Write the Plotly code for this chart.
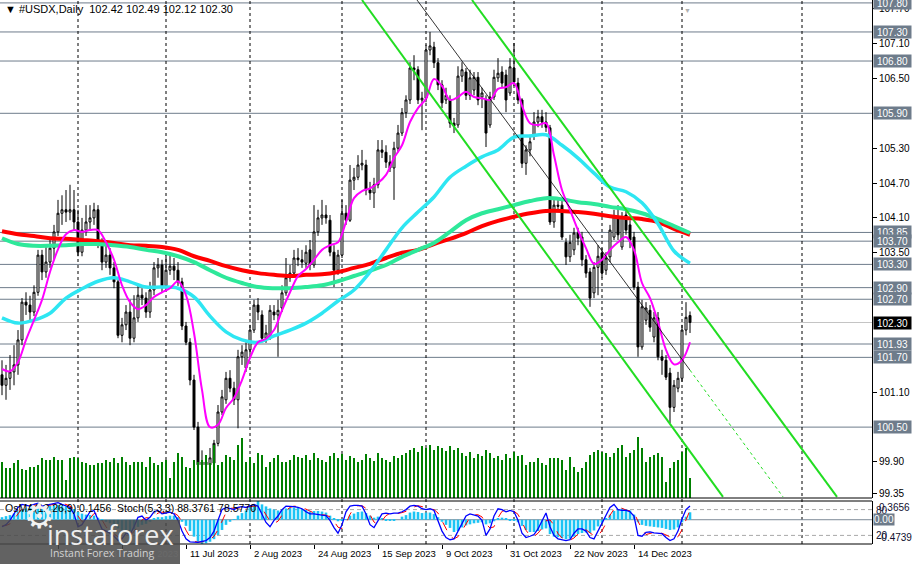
import plotly.graph_objects as go

W, H = 913, 564

# ---------------- data ----------------
symbol = "#USDX,Daily"
first_bar = 2  # bar index of first visible candle (bar 0 = 4 May 2023)

opens = [
    101.40, 101.22, 101.34, 101.45, 101.57, 102.00, 102.65, 102.60, 102.48, 102.82,
    103.46, 103.17, 103.34, 103.58, 103.86, 104.18, 104.24, 104.20, 104.24, 104.03,
    103.51, 103.89, 104.03, 104.10, 104.24, 103.68, 103.34, 103.46, 103.24, 103.00,
    102.08, 102.26, 102.48, 102.03, 102.38, 102.77, 102.72, 102.48, 102.86, 103.24,
    103.29, 102.93, 103.20, 103.27, 103.20, 103.00, 102.24, 101.96, 101.31, 100.50,
    99.85, 99.90, 99.85, 99.88, 100.22, 100.76, 100.97, 101.34, 101.17, 100.97,
    101.71, 101.52, 101.83, 102.17, 102.60, 102.43, 102.03, 102.08, 102.48, 102.43,
    102.55, 102.81, 103.07, 103.15, 103.41, 103.38, 103.32, 103.55, 103.29, 103.86,
    104.10, 104.15, 104.06, 103.51, 103.20, 103.46, 104.18, 104.06, 104.75, 104.80,
    105.01, 105.01, 104.58, 104.53, 104.67, 105.27, 105.23, 105.06, 104.96, 105.30,
    105.56, 105.91, 106.13, 106.68, 106.65, 106.13, 106.16, 106.99, 107.04, 106.77,
    106.39, 106.13, 106.13, 105.73, 105.70, 106.54, 106.61, 106.21, 106.30, 106.52,
    106.18, 106.13, 105.70, 106.18, 106.51, 106.61, 106.56, 106.25, 106.68, 106.42,
    106.13, 105.04, 105.27, 105.53, 105.75, 105.84, 105.75, 105.65, 104.03, 104.32,
    104.32, 103.68, 103.43, 103.55, 103.84, 103.77, 103.38, 103.17, 102.81, 103.25,
    103.50, 103.20, 103.43, 103.77, 104.12, 103.60, 104.15, 103.98, 103.77, 102.91,
    101.88, 102.34, 102.51, 102.05, 102.38, 101.71, 101.65, 101.43, 100.84, 101.17,
    101.34, 102.17, 102.42,
]
highs = [
    101.65, 101.57, 101.74, 101.91, 102.17, 102.72, 102.82, 102.76, 102.94, 103.55,
    103.55, 103.63, 103.75, 103.98, 104.41, 104.49, 104.58, 104.67, 104.58, 104.24,
    104.10, 104.32, 104.32, 104.36, 104.32, 103.75, 103.63, 103.58, 103.34, 103.07,
    102.38, 102.60, 102.69, 102.77, 102.94, 102.89, 102.82, 103.00, 103.34, 103.41,
    103.38, 103.46, 103.46, 103.41, 103.34, 103.07, 102.31, 102.03, 101.40, 100.59,
    100.10, 100.02, 100.14, 100.28, 100.88, 101.14, 101.45, 101.48, 101.28, 101.83,
    101.91, 101.96, 102.26, 102.69, 102.72, 102.51, 102.26, 102.60, 102.60, 102.69,
    102.94, 103.41, 103.29, 103.55, 103.58, 103.55, 103.63, 103.72, 104.32, 104.24,
    104.41, 104.32, 104.15, 103.63, 103.55, 104.41, 104.32, 105.01, 104.96, 105.18,
    105.27, 105.10, 104.72, 104.79, 105.44, 105.44, 105.35, 105.18, 105.41, 105.70,
    105.99, 106.21, 106.78, 106.90, 106.71, 106.27, 107.08, 107.30, 107.13, 106.85,
    106.47, 106.34, 106.21, 105.82, 106.71, 106.78, 106.68, 106.65, 106.61, 106.61,
    106.34, 106.21, 106.27, 106.65, 106.85, 106.71, 106.65, 106.85, 107.11, 106.51,
    106.16, 105.35, 105.53, 105.92, 105.96, 105.96, 105.92, 105.70, 104.44, 104.44,
    104.41, 103.75, 103.81, 103.93, 103.93, 103.86, 103.46, 103.24, 103.34, 103.63,
    103.58, 103.51, 103.98, 104.24, 104.32, 104.20, 104.27, 104.06, 103.86, 103.00,
    102.69, 102.65, 102.60, 102.48, 102.48, 101.83, 101.74, 101.52, 101.31, 101.45,
    102.26, 102.65, 102.49,
]
lows = [
    101.05, 100.97, 101.14, 101.22, 101.40, 101.91, 102.43, 102.34, 102.41, 102.76,
    103.03, 103.07, 103.24, 103.38, 103.79, 103.98, 104.03, 104.06, 103.89, 103.44,
    103.44, 103.79, 103.89, 103.98, 103.58, 103.20, 103.24, 103.12, 102.89, 102.03,
    101.96, 102.17, 101.91, 101.96, 102.31, 102.60, 102.38, 102.38, 102.77, 103.07,
    102.82, 102.86, 103.12, 103.03, 102.93, 102.17, 101.91, 101.22, 100.45, 99.67,
    99.73, 99.76, 99.76, 99.83, 100.17, 100.71, 100.90, 101.10, 100.88, 100.48,
    101.57, 101.45, 101.74, 102.12, 102.34, 101.96, 101.95, 102.00, 102.34, 101.71,
    102.48, 102.76, 103.00, 103.10, 103.27, 103.24, 103.24, 103.20, 103.24, 103.79,
    103.98, 104.00, 103.44, 102.91, 103.12, 103.41, 103.98, 104.03, 104.58, 104.75,
    104.92, 104.49, 104.41, 104.27, 104.61, 105.13, 104.96, 104.89, 104.41, 105.23,
    105.51, 105.82, 106.06, 106.47, 106.06, 105.61, 106.09, 106.90, 106.68, 106.30,
    105.99, 106.06, 105.65, 105.56, 105.65, 106.44, 106.13, 106.13, 106.21, 106.04,
    105.99, 105.32, 105.65, 106.13, 106.44, 106.34, 105.92, 106.20, 106.37, 106.06,
    104.96, 104.84, 105.16, 105.44, 105.66, 105.65, 105.58, 103.98, 103.93, 104.20,
    103.72, 103.29, 103.34, 103.46, 103.63, 103.27, 103.07, 102.57, 102.72, 102.77,
    103.07, 103.12, 103.34, 103.72, 103.72, 103.55, 103.81, 103.58, 102.86, 101.71,
    101.83, 102.26, 102.14, 101.96, 101.65, 101.40, 101.31, 100.57, 100.76, 101.10,
    101.28, 102.08, 102.12,
]
closes = [
    101.22, 101.34, 101.45, 101.57, 102.00, 102.65, 102.60, 102.48, 102.82, 103.46,
    103.17, 103.34, 103.58, 103.86, 104.18, 104.24, 104.20, 104.24, 104.03, 103.51,
    103.89, 104.03, 104.10, 104.24, 103.68, 103.34, 103.46, 103.24, 103.00, 102.08,
    102.26, 102.48, 102.03, 102.38, 102.77, 102.72, 102.48, 102.86, 103.24, 103.29,
    102.93, 103.20, 103.27, 103.20, 103.00, 102.24, 101.96, 101.31, 100.50, 99.85,
    99.90, 99.85, 99.97, 100.22, 100.76, 101.02, 101.34, 101.17, 100.97, 101.71,
    101.79, 101.83, 102.17, 102.60, 102.48, 102.03, 102.12, 102.51, 102.43, 102.51,
    102.81, 103.07, 103.15, 103.41, 103.38, 103.34, 103.51, 103.29, 103.86, 104.10,
    104.15, 104.10, 103.51, 103.20, 103.46, 104.18, 104.06, 104.75, 104.80, 105.01,
    105.04, 104.58, 104.53, 104.67, 105.27, 105.23, 105.06, 104.96, 105.30, 105.56,
    105.91, 106.13, 106.68, 106.65, 106.13, 106.16, 106.99, 107.06, 106.77, 106.39,
    106.08, 106.21, 105.73, 105.68, 106.54, 106.65, 106.21, 106.51, 106.52, 106.13,
    106.25, 105.56, 106.18, 106.52, 106.59, 106.42, 106.13, 106.70, 106.44, 106.13,
    105.04, 105.27, 105.41, 105.75, 105.84, 105.75, 105.66, 104.03, 104.32, 104.30,
    103.77, 103.43, 103.68, 103.84, 103.75, 103.38, 103.15, 102.72, 103.25, 103.44,
    103.15, 103.41, 103.89, 104.12, 103.81, 104.12, 103.89, 103.72, 102.91, 101.88,
    102.57, 102.55, 102.22, 102.38, 101.71, 101.65, 101.36, 100.84, 101.22, 101.34,
    102.17, 102.39, 102.30,
]
volumes = [
    36, 30, 30, 35, 38, 29, 28, 31, 31, 33,
    40, 38, 38, 41, 38, 38, 18, 40, 41, 40,
    36, 35, 33, 33, 35, 35, 38, 36, 40, 35,
    41, 36, 33, 36, 36, 36, 31, 41, 35, 33,
    36, 38, 20, 36, 45, 41, 31, 30, 38, 36,
    38, 43, 35, 53, 33, 36, 43, 41, 38, 53,
    60, 36, 41, 35, 45, 43, 31, 36, 40, 43,
    36, 36, 38, 43, 41, 40, 43, 38, 45, 40,
    38, 36, 42, 45, 40, 44, 38, 42, 40, 36,
    38, 44, 40, 37, 45, 40, 38, 36, 42, 40,
    43, 45, 48, 50, 46, 52, 50, 53, 48, 52,
    50, 47, 52, 48, 50, 45, 42, 46, 40, 44,
    42, 48, 45, 40, 42, 38, 44, 40, 46, 42,
    43, 33, 36, 36, 40, 35, 33, 40, 40, 40,
    38, 28, 41, 31, 26, 30, 36, 43, 46, 48,
    46, 45, 41, 45, 50, 53, 41, 45, 48, 61,
    50, 36, 41, 43, 45, 41, 16, 30, 36, 38,
    46, 50, 20,
]
osma = [
    0.05, 0.07, 0.09, 0.12, 0.16, 0.20, 0.22, 0.23, 0.24, 0.26,
    0.26, 0.26, 0.27, 0.28, 0.29, 0.28, 0.26, 0.24, 0.21, 0.15,
    0.12, 0.10, 0.09, 0.08, 0.04, -0.01, -0.04, -0.07, -0.10, -0.17,
    -0.20, -0.20, -0.22, -0.19, -0.14, -0.10, -0.08, -0.04, 0.02, 0.05,
    0.05, 0.07, 0.08, 0.08, 0.05, -0.04, -0.12, -0.22, -0.33, -0.43,
    -0.4739, -0.46, -0.43, -0.38, -0.30, -0.20, -0.10, -0.04, 0.01, 0.08,
    0.13, 0.18, 0.24, 0.30, 0.3656, 0.30, 0.26, 0.22, 0.20, 0.18,
    0.20, 0.22, 0.23, 0.24, 0.23, 0.21, 0.19, 0.16, 0.17, 0.17,
    0.16, 0.14, 0.08, 0.02, -0.03, -0.02, 0.01, 0.08, 0.12, 0.15,
    0.16, 0.13, 0.08, 0.04, 0.06, 0.02, -0.01, -0.02, -0.02, 0.00,
    0.06, 0.09, 0.14, 0.16, 0.15, 0.13, 0.14, 0.14, 0.11, 0.05,
    -0.04, -0.10, -0.16, -0.24, -0.22, -0.15, -0.11, -0.09, -0.07, -0.06,
    -0.05, -0.09, -0.07, -0.03, 0.02, 0.04, 0.02, -0.01, -0.02, -0.05,
    -0.12, -0.20, -0.24, -0.24, -0.22, -0.19, -0.17, -0.28, -0.33, -0.34,
    -0.36, -0.38, -0.37, -0.33, -0.28, -0.26, -0.25, -0.26, -0.21, -0.13,
    -0.06, 0.02, 0.10, 0.17, 0.20, 0.22, 0.21, 0.18, 0.10, -0.05,
    -0.10, -0.12, -0.13, -0.14, -0.15, -0.16, -0.18, -0.20, -0.19, -0.15,
    -0.05, 0.06, 0.1456,
]
stoch_main = [
    40, 45, 55, 70, 85, 92, 90, 88, 92, 95,
    88, 90, 93, 95, 96, 92, 88, 85, 70, 40,
    45, 60, 75, 78, 55, 35, 30, 25, 18, 8,
    12, 25, 22, 40, 62, 65, 55, 62, 75, 78,
    70, 72, 74, 70, 55, 30, 12, 5, 4, 4,
    6, 8, 15, 30, 55, 80, 85, 83, 80, 85,
    87, 85, 88, 92, 88, 70, 50, 40, 55, 65,
    80, 88, 88, 87, 85, 82, 75, 70, 70, 68,
    67, 66, 55, 38, 25, 45, 75, 88, 90, 90,
    88, 70, 45, 38, 55, 70, 72, 70, 72, 72,
    75, 80, 88, 90, 88, 82, 80, 82, 78, 55,
    30, 15, 10, 12, 30, 50, 65, 70, 68, 65,
    55, 20, 35, 65, 82, 80, 75, 78, 75, 55,
    25, 15, 18, 22, 35, 55, 72, 40, 20, 12,
    10, 8, 10, 25, 35, 35, 30, 15, 12, 30,
    50, 65, 85, 92, 80, 78, 78, 75, 65, 20,
    18, 27, 28, 26, 25, 24, 15, 8, 12, 30,
    58, 80, 88.3761,
]
stoch_signal = [
    42, 43, 47, 57, 70, 82, 89, 90, 90, 92,
    92, 91, 90, 93, 95, 94, 92, 88, 81, 65,
    52, 48, 60, 71, 69, 56, 40, 30, 24, 17,
    13, 15, 20, 29, 41, 56, 61, 61, 64, 72,
    74, 73, 72, 72, 66, 52, 32, 16, 7, 4,
    5, 6, 10, 18, 33, 55, 73, 83, 83, 83,
    84, 86, 87, 88, 89, 83, 69, 53, 48, 53,
    67, 78, 85, 88, 87, 85, 81, 76, 72, 69,
    68, 67, 63, 53, 39, 36, 48, 69, 84, 89,
    89, 83, 68, 51, 46, 54, 66, 71, 71, 71,
    73, 76, 81, 86, 89, 87, 83, 81, 80, 72,
    54, 33, 18, 12, 17, 31, 48, 62, 68, 68,
    63, 47, 37, 40, 61, 76, 79, 78, 76, 69,
    52, 32, 19, 18, 25, 37, 54, 56, 44, 24,
    14, 10, 9, 14, 23, 32, 33, 27, 19, 19,
    31, 48, 67, 81, 86, 83, 79, 77, 73, 53,
    34, 22, 24, 27, 26, 25, 21, 16, 12, 17,
    33, 56, 78.5770,
]

# moving averages (every 4 bars / every 2 bars)
ma_slow_bars = list(range(2, 175, 4))
ma200_red = [103.87, 103.82, 103.79, 103.75, 103.74, 103.72, 103.70, 103.67, 103.63, 103.62,
             103.60, 103.55, 103.44, 103.36, 103.27, 103.20, 103.15, 103.12, 103.10, 103.12,
             103.13, 103.17, 103.24, 103.31, 103.41, 103.50, 103.55, 103.65, 103.74, 103.84,
             103.96, 104.05, 104.12, 104.18, 104.22, 104.22, 104.20, 104.17, 104.13, 104.10,
             104.08, 104.03, 103.91, 103.81]
ma144_green = [103.75, 103.65, 103.62, 103.62, 103.63, 103.65, 103.65, 103.63, 103.60, 103.55,
               103.51, 103.44, 103.34, 103.20, 103.07, 102.98, 102.91, 102.89, 102.89, 102.91,
               102.94, 103.01, 103.10, 103.19, 103.29, 103.43, 103.55, 103.67, 103.86, 104.06,
               104.18, 104.25, 104.32, 104.39, 104.44, 104.42, 104.37, 104.34, 104.29, 104.25,
               104.18, 104.08, 103.96, 103.84]
ma50_cyan = [102.38, 102.29, 102.34, 102.46, 102.72, 102.88, 103.01, 103.07, 103.00, 102.91,
             102.91, 102.89, 102.74, 102.41, 102.14, 102.00, 101.96, 102.07, 102.17, 102.29,
             102.46, 102.67, 102.86, 103.17, 103.55, 103.93, 104.20, 104.46, 104.80, 104.99,
             105.15, 105.27, 105.49, 105.51, 105.53, 105.35, 105.13, 104.87, 104.63, 104.55,
             104.36, 104.00, 103.53, 103.32]
ma_fast_bars = list(range(2, 175, 2))
ma_fast_magenta = [101.50, 101.46, 101.62, 102.00, 102.34, 102.69, 103.17, 103.56, 103.82, 103.89,
                   103.86, 103.89, 103.89, 103.68, 103.38, 102.94, 102.65, 102.53, 102.60, 102.74,
                   102.82, 102.89, 103.01, 102.77, 102.12, 101.14, 100.50, 100.54, 100.83, 101.00,
                   101.31, 101.69, 101.96, 102.02, 102.17, 102.51, 102.82, 103.10, 103.22, 103.38,
                   103.55, 103.63, 103.68, 104.03, 104.44, 104.56, 104.61, 104.70, 104.84, 105.13,
                   105.35, 105.75, 105.99, 106.15, 106.49, 106.37, 106.13, 106.18, 106.27, 106.18,
                   106.16, 106.13, 106.32, 106.35, 106.42, 106.03, 105.73, 105.70, 105.73, 105.18,
                   104.58, 104.24, 103.89, 103.58, 103.31, 103.38, 103.55, 103.68, 103.77, 103.55,
                   102.98, 102.72, 102.31, 101.83, 101.58, 101.65, 101.96]

# channel trend lines: (bar index, price) anchors
trend_lower_bars, trend_lower = [92.0, 182.25], [107.85, 99.30]
trend_upper_bars, trend_upper = [119.5, 210.75], [107.85, 99.30]
trend_mid_bars, trend_mid = [105.75, 174.0], [107.85, 101.48]
trend_proj_bars, trend_proj = [174.0, 197.25], [101.48, 99.30]

level_prices = [107.80, 107.30, 106.80, 105.90, 103.85, 103.70, 103.30,
                102.90, 102.70, 101.93, 101.70, 100.50]
price_ticks = [107.70, 107.10, 106.50, 105.30, 104.70, 104.10, 103.50, 101.10, 99.90, 99.35]
month_start_bars = [21, 43, 64, 87, 108, 130, 152, 172, 202]
date_label_bars = [0, 16, 32, 48, 64, 80, 96, 112, 128, 144, 160]
date_labels = ["4 May 2023", "26 May 2023", "19 Jun 2023", "11 Jul 2023", "2 Aug 2023",
               "24 Aug 2023", "15 Sep 2023", "9 Oct 2023", "31 Oct 2023", "22 Nov 2023",
               "14 Dec 2023"]
osma_max, osma_min = 0.3656, -0.4739

bars = list(range(first_bar, first_bar + len(closes)))
for arr in (opens, highs, lows, volumes, osma, stoch_main, stoch_signal):
    assert len(arr) == len(closes), len(arr)

# ---------------- layout helpers ----------------
PLOT_R = 872
X_RANGE = [1.5, 219.5]
Y_RANGE = [99.28, 107.85]
LOGO_R = 180


def fx(px):
    return px / W


def fy(px):
    return 1 - px / H


def bar_px(b):
    return (b - X_RANGE[0]) / (X_RANGE[1] - X_RANGE[0]) * PLOT_R


FONT = "Liberation Sans, Arial, sans-serif"
SEP_DASH = "3px,3px"
LABEL_BG = "#6E7C8B"

fig = go.Figure()

# volume (own hidden scale inside price window)
fig.add_trace(go.Bar(x=bars, y=volumes, yaxis="y3", marker_color="#008000",
                     marker_line_width=0, width=0.3, hoverinfo="skip", showlegend=False))

fig.add_trace(go.Candlestick(
    x=bars, open=opens, high=highs, low=lows, close=closes,
    increasing=dict(line=dict(color="black", width=1), fillcolor="white"),
    decreasing=dict(line=dict(color="black", width=1), fillcolor="black"),
    whiskerwidth=0, showlegend=False))

fig.add_trace(go.Scatter(x=ma_slow_bars, y=ma200_red, mode="lines", line=dict(color="#FF0000", width=4, shape="spline"), showlegend=False))
fig.add_trace(go.Scatter(x=ma_slow_bars, y=ma144_green, mode="lines", line=dict(color="#2EE89A", width=4, shape="spline"), showlegend=False))
fig.add_trace(go.Scatter(x=ma_slow_bars, y=ma50_cyan, mode="lines", line=dict(color="#2EE6F2", width=3.5, shape="spline"), showlegend=False))
fig.add_trace(go.Scatter(x=ma_fast_bars, y=ma_fast_magenta, mode="lines", line=dict(color="#FF00FF", width=2, shape="spline"), showlegend=False))

for bx, by, style in [
    (trend_lower_bars, trend_lower, dict(color="#22DD22", width=2)),
    (trend_upper_bars, trend_upper, dict(color="#22DD22", width=2)),
    (trend_mid_bars, trend_mid, dict(color="#000000", width=0.8)),
    (trend_proj_bars, trend_proj, dict(color="#22DD22", width=1, dash="dot")),
]:
    fig.add_trace(go.Scatter(x=bx, y=by, mode="lines", line=style, showlegend=False, hoverinfo="skip"))

# oscillator window
fig.add_trace(go.Bar(x=bars, y=osma, xaxis="x2", yaxis="y2", marker_color="#1CC4F4",
                     marker_line_width=0, width=0.65, showlegend=False))
fig.add_trace(go.Scatter(x=bars, y=stoch_signal, xaxis="x2", yaxis="y4", mode="lines",
                         line=dict(color="#FF0000", width=1, dash="dash"), showlegend=False))
fig.add_trace(go.Scatter(x=bars, y=stoch_main, xaxis="x2", yaxis="y4", mode="lines",
                         line=dict(color="#0000FF", width=1.3), showlegend=False))

shapes = []
for lvl in level_prices:
    shapes.append(dict(type="line", xref="paper", yref="y", x0=0, x1=fx(PLOT_R), y0=lvl, y1=lvl,
                       line=dict(color=LABEL_BG, width=1), layer="below"))
shapes.append(dict(type="line", xref="paper", yref="y", x0=0, x1=fx(PLOT_R), y0=closes[-1], y1=closes[-1],
                   line=dict(color="#C4C4C4", width=1), layer="below"))
for b in month_start_bars:
    shapes.append(dict(type="line", xref="x", yref="paper", x0=b, x1=b, y0=fy(544), y1=1,
                       line=dict(color="black", width=1, dash=SEP_DASH), layer="below"))
# panel frames
for ypx in (498, 501, 544):
    shapes.append(dict(type="line", xref="paper", yref="paper", x0=0, x1=fx(PLOT_R), y0=fy(ypx), y1=fy(ypx),
                       line=dict(color="black", width=1)))
# oscillator levels
for lv in (80, 20):
    shapes.append(dict(type="line", xref="paper", yref="y4", x0=0, x1=fx(PLOT_R), y0=lv, y1=lv,
                       line=dict(color="#A8A8A8", width=1, dash="4px,3px"), layer="below"))
shapes.append(dict(type="line", xref="paper", yref="y2", x0=0, x1=fx(PLOT_R), y0=0, y1=0,
                   line=dict(color="#7D8A96", width=1), layer="below"))
# watermark box
shapes.append(dict(type="rect", xref="paper", yref="paper", x0=0, x1=fx(LOGO_R), y0=0, y1=fy(520),
                   fillcolor="rgba(72,72,72,0.86)", line=dict(width=0), layer="above"))

ann = []
# date labels (left-aligned just right of their tick, MT4 style); dimmed under the watermark
for b, lab in zip(date_label_bars, date_labels):
    under_logo = bar_px(b) + 40 < LOGO_R + 5
    ann.append(dict(text=lab, x=b, xref="x2", y=fy(553), yref="paper", xanchor="left",
                    yanchor="middle", xshift=2, showarrow=False,
                    font=dict(family=FONT, size=9.5, color="#6A6A6A" if under_logo else "black")))

title_txt = "\u25BC %s  %.2f %.2f %.2f %.2f" % (symbol, opens[-1], highs[-1], lows[-1], closes[-1])
ann.append(dict(text=title_txt, x=fx(3), y=fy(9), xref="paper", yref="paper", xanchor="left",
                yanchor="middle", showarrow=False, font=dict(family=FONT, size=11, color="black")))
for lvl in level_prices:
    ann.append(dict(text="%.2f" % lvl, x=fx(873), y=lvl, xref="paper", yref="y", xanchor="left",
                    yanchor="middle", showarrow=False, bgcolor=LABEL_BG, borderpad=0, width=37,
                    height=12, font=dict(family=FONT, size=10, color="white")))
ann.append(dict(text="%.2f" % closes[-1], x=fx(873), y=closes[-1], xref="paper", yref="y", xanchor="left",
                yanchor="middle", showarrow=False, bgcolor="black", borderpad=0, width=37, height=12,
                font=dict(family=FONT, size=10, color="white")))
osc_txt = "OsMA(12,26,9) %.4f  Stoch(5,3,3) %.4f %.4f" % (osma[-1], stoch_main[-1], stoch_signal[-1])
ann.append(dict(text=osc_txt, x=fx(3), y=fy(508), xref="paper", yref="paper", xanchor="left",
                yanchor="middle", showarrow=False, font=dict(family=FONT, size=10.5, color="black")))
# oscillator scale labels
for txt, xp, yp in [("80", 874, 510), ("%.4f" % osma_max, 877, 507), ("20", 874, 535),
                    ("%.4f" % osma_min, 876, 537)]:
    ann.append(dict(text=txt, x=fx(xp), y=fy(yp), xref="paper", yref="paper", xanchor="left",
                    yanchor="middle", showarrow=False, font=dict(family=FONT, size=10, color="#101030")))
ann.append(dict(text="0.00", x=fx(873), y=0, xref="paper", yref="y2", xanchor="left", yanchor="middle",
                showarrow=False, bgcolor=LABEL_BG, borderpad=0,
                font=dict(family=FONT, size=10, color="white")))
# shift marker
ann.append(dict(text="\u25BC", x=fx(693), y=fy(4), xref="paper", yref="paper", showarrow=False,
                font=dict(size=7, color="#B0B0B0")))
# watermark
ann.append(dict(text="\u2699", x=fx(22), y=fy(538), xref="paper", yref="paper", showarrow=False,
                font=dict(family="DejaVu Sans", size=34, color="#F2F2F2")))
ann.append(dict(text="instaforex", x=fx(45), y=fy(534), xref="paper", yref="paper", xanchor="left",
                yanchor="middle", showarrow=False, font=dict(family="Open Sans", size=27, color="#EDEDED")))
ann.append(dict(text="Instant Forex Trading", x=fx(48), y=fy(553), xref="paper", yref="paper",
                xanchor="left", yanchor="middle", showarrow=False,
                font=dict(family="Open Sans", size=10.5, color="#D2D2D2")))

fig.update_layout(
    width=W, height=H, margin=dict(l=0, r=0, t=0, b=0),
    paper_bgcolor="white", plot_bgcolor="white", barmode="overlay", showlegend=False,
    xaxis=dict(domain=[0, fx(PLOT_R)], range=X_RANGE, showticklabels=False, showgrid=False,
               zeroline=False, rangeslider=dict(visible=False), anchor="y", fixedrange=True),
    yaxis=dict(domain=[fy(498), 1], range=Y_RANGE, side="right", tickvals=price_ticks,
               ticktext=["%.2f" % v for v in price_ticks], ticks="outside", ticklen=4,
               tickcolor="black", showline=True, linecolor="black", linewidth=1,
               showgrid=False, zeroline=False, automargin=False,
               tickfont=dict(family=FONT, size=10, color="black")),
    yaxis3=dict(overlaying="y", range=[0, 498], visible=False),
    xaxis2=dict(domain=[0, fx(PLOT_R)], range=X_RANGE, anchor="y2", tickvals=date_label_bars,
                ticks="outside", ticklen=4, tickcolor="black", showticklabels=False,
                showgrid=False, zeroline=False, automargin=False),
    yaxis2=dict(domain=[fy(544), fy(501)], range=[osma_min, osma_max], side="right",
                showticklabels=False, showgrid=False, zeroline=False, showline=True,
                linecolor="black", ticks=""),
    yaxis4=dict(overlaying="y2", range=[0, 100], visible=False),
    shapes=shapes, annotations=ann,
)

fig.write_html("out.html")
